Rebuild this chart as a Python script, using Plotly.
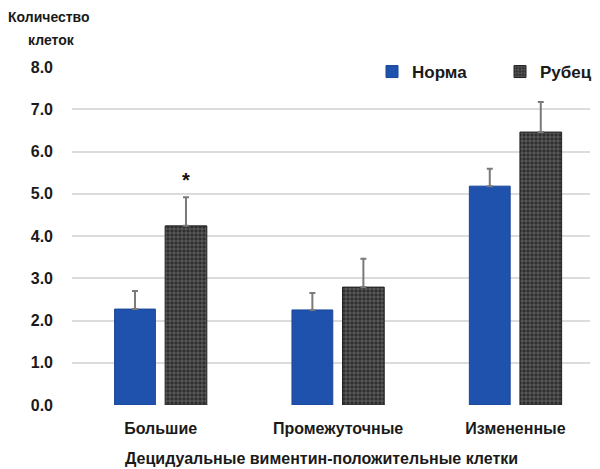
import plotly.graph_objects as go

categories = ["Большие", "Промежуточные", "Измененные"]
norma = [2.27, 2.25, 5.18]
norma_err = [0.43, 0.40, 0.41]
rubets = [4.24, 2.79, 6.46]
rubets_err = [0.68, 0.67, 0.71]
y_ticks = [0, 1, 2, 3, 4, 5, 6, 7, 8]
y_tick_labels = ["0.0", "1.0", "2.0", "3.0", "4.0", "5.0", "6.0", "7.0", "8.0"]

FONT = "Liberation Sans"
PL, PR, PT, PB = 72, 590, 67, 405
PW, PH = PR - PL, PB - PT


def px_x(p):
    return (p - PL) / PW


def px_y(p):
    return (PB - p) / PH


fig = go.Figure()
fig.add_trace(go.Bar(
    x=categories, y=norma, name="Норма",
    marker=dict(color="#1f52ad", line=dict(color="#1a4596", width=1)),
    width=0.23, offset=-0.26,
    error_y=dict(type="data", array=norma_err, arrayminus=[0, 0, 0], symmetric=False,
                 color="#7a7a7a", thickness=2, width=3),
))
fig.add_trace(go.Bar(
    x=categories, y=rubets, name="Рубец",
    marker=dict(color="#3c3c3c", line=dict(color="#222222", width=1),
                pattern=dict(shape="+", fgcolor="#d8d8d8", bgcolor="#2e2e2e", size=4, solidity=0.25)),
    width=0.235, offset=0.025,
    error_y=dict(type="data", array=rubets_err, arrayminus=[0, 0, 0], symmetric=False,
                 color="#7a7a7a", thickness=2, width=3),
))

annotations = [
    dict(x=0.1425, xref="x", y=rubets[0] + rubets_err[0] + 0.1, yref="y",
         text="<b>*</b>", showarrow=False, yanchor="bottom",
         font=dict(size=20, color="#111111", family=FONT)),
    dict(x=px_x(6), xref="paper", xanchor="left", y=px_y(17), yref="paper",
         yanchor="middle", text="Количество", showarrow=False,
         font=dict(size=14, family=FONT, weight="bold", color="#1a1a1a")),
    dict(x=px_x(26), xref="paper", xanchor="left", y=px_y(40), yref="paper",
         yanchor="middle", text="клеток", showarrow=False,
         font=dict(size=14, family=FONT, weight="bold", color="#1a1a1a")),
    dict(x=px_x(321), xref="paper", xanchor="center", y=px_y(458), yref="paper",
         yanchor="middle", text="Децидуальные виментин-положительные клетки", showarrow=False,
         font=dict(size=16, family=FONT, weight="bold", color="#1a1a1a")),
]

fig.update_layout(
    width=600, height=469,
    margin=dict(l=PL, r=600 - PR, t=PT, b=469 - PB, autoexpand=False),
    plot_bgcolor="white", paper_bgcolor="white",
    font=dict(family=FONT, size=16, color="#1a1a1a", weight="bold"),
    showlegend=True,
    legend=dict(orientation="h", x=px_x(372), xanchor="left", y=px_y(72), yanchor="middle",
                font=dict(size=17, family=FONT, weight="bold"), bgcolor="rgba(255,255,255,0)",
                itemwidth=30, entrywidth=83, entrywidthmode="pixels"),
    xaxis=dict(range=[-0.5, 2.42], showgrid=False, showline=False, ticks="",
               ticklabelstandoff=12,
               tickfont=dict(size=16, family=FONT, weight="bold")),
    yaxis=dict(range=[0, 8.0], tickvals=y_ticks, ticktext=y_tick_labels,
               showgrid=True, gridcolor="#dcdcdc", gridwidth=1.5, zeroline=False,
               showline=False, ticks="", ticklabelstandoff=18,
               tickfont=dict(size=16, family=FONT, weight="bold")),
    annotations=annotations,
)

fig.write_html("out.html")
